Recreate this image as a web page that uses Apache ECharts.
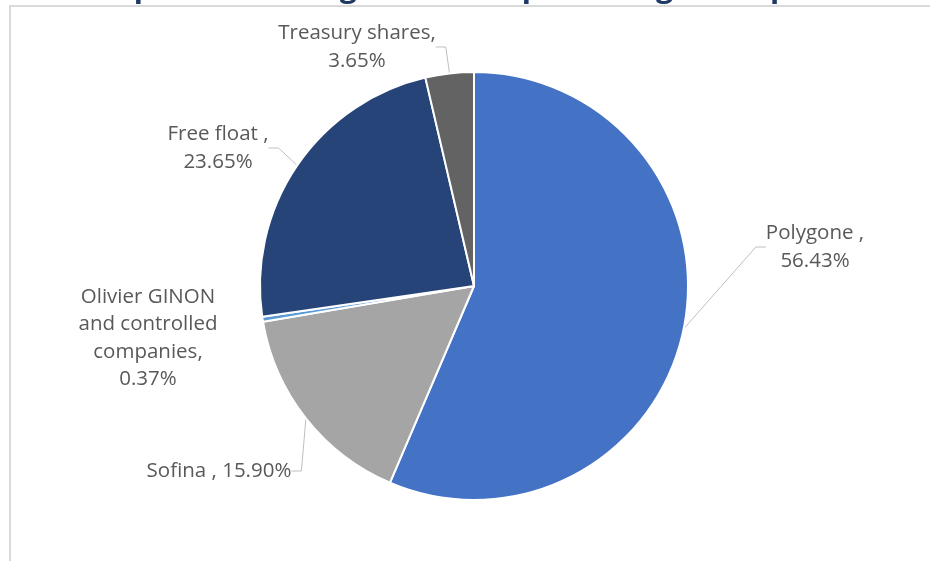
<!DOCTYPE html>
<html>
<head>
<meta charset="utf-8">
<script src="https://cdn.jsdelivr.net/npm/echarts@6/dist/echarts.min.js"></script>
<style>
html,body{margin:0;padding:0;background:#fff;}
#c{width:930px;height:561px;}
</style>
</head>
<body>
<div id="c"></div>
<script>
const categories = ["Polygone", "Sofina", "Olivier GINON\nand controlled\ncompanies", "Free float", "Treasury shares"];
const labelTexts = ["Polygone ,\n56.43%", "Sofina , 15.90%", "Olivier GINON\nand controlled\ncompanies,\n0.37%", "Free float ,\n23.65%", "Treasury shares,\n3.65%"];
const values = [56.43, 15.90, 0.37, 23.65, 3.65];
const colors = ["#4472C4", "#A5A5A5", "#5B9BD5", "#264478", "#636363"];
const labelPos = [[815, 247], [219, 471], [148, 338], [218, 148], [357, 47]];
const showLine = [true, true, false, true, true];

const chart = echarts.init(document.getElementById('c'), null, {renderer: 'canvas'});
chart.setOption({
  animation: false,
  graphic: [
    {type: 'rect', shape: {x: 10, y: 6, width: 1000, height: 1000},
     style: {fill: 'none', stroke: '#D9D9D9', lineWidth: 2}, z: 0},
    {type: 'text', x: 60, y: -27,
     style: {text: 'Group shareholding structure: percentage of capital held by group', fill: '#1F3864',
             font: 'bold 30px "Open Sans"'}, z: 1}
  ],
  series: [{
    type: 'pie',
    center: [474, 286],
    radius: 214,
    startAngle: 90,
    clockwise: true,
    itemStyle: {borderColor: '#fff', borderWidth: 2},
    data: categories.map((c, i) => ({
      name: c, value: values[i],
      itemStyle: {color: colors[i]},
      label: {formatter: labelTexts[i]},
      labelLine: {show: showLine[i]}
    })),
    label: {
      show: true, position: 'outside', color: '#595959',
      fontFamily: 'Open Sans', fontSize: 20.5, lineHeight: 27.5, align: 'center'
    },
    labelLine: {show: true, length: 10, length2: 10, lineStyle: {color: '#BFBFBF', width: 1}},
    labelLayout: function (p) {
      const pos = labelPos[p.dataIndex];
      return {x: pos[0], y: pos[1], align: 'center', verticalAlign: 'middle'};
    }
  }]
});
</script>
</body>
</html>
